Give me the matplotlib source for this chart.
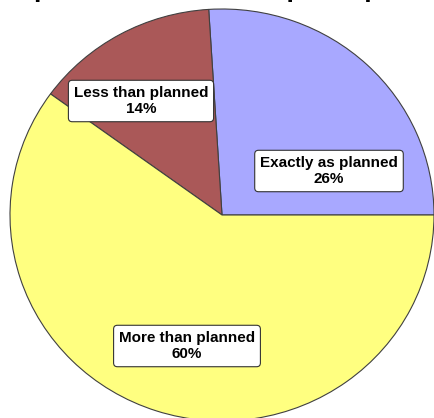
import matplotlib
matplotlib.use("Agg")
import matplotlib.pyplot as plt

categories = ["Exactly as planned", "Less than planned", "More than planned"]
values = [26, 14, 60]
colors = ["#A8A8FF", "#AA5858", "#FFFF80"]
title = "Actual purchases vs. anticipated purchases"

W, H = 434, 418
fig = plt.figure(figsize=(W / 100, H / 100), dpi=100)
ax = fig.add_axes([0, 0, 1, 1])

# pixel-like coords; slight vertical squash of the pie
s = 206 / 212
cx, cy_pix = 222, 215

wedges, _ = ax.pie(values, colors=colors, startangle=0, counterclock=True,
                   center=(cx, 0), radius=212, frame=True,
                   wedgeprops=dict(edgecolor="#404040", linewidth=0.8))
ax.set_xlim(0, W)
ax.set_ylim(-(H - cy_pix) / s, cy_pix / s)
ax.set_aspect("auto")
ax.axis("off")

def py(p):
    return (cy_pix - p) / s

label_pos = {"Exactly as planned": (329, 171),
             "More than planned": (187, 346),
             "Less than planned": (141, 101)}
for cat, v in zip(categories, values):
    x, yp = label_pos[cat]
    ax.text(x, py(yp), f"{cat}\n{v}%", ha="center", va="center",
            fontsize=11, fontweight="bold", family="Liberation Sans",
            linespacing=1.25,
            bbox=dict(boxstyle="round,pad=0.35,rounding_size=0.25",
                      facecolor="white", edgecolor="#333333", linewidth=0.8))

ax.text(221, py(-3), title, ha="center", va="baseline", fontsize=19,
        fontweight="bold", family="Liberation Sans")

fig.savefig("out.png", dpi=100, facecolor="white")
